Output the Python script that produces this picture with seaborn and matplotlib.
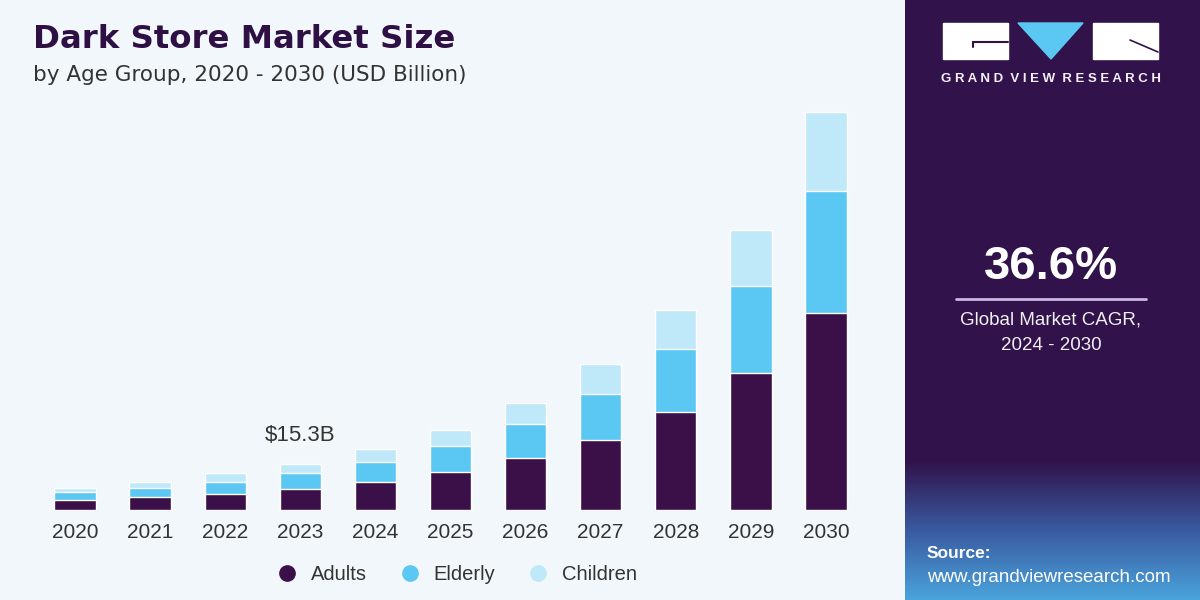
import numpy as np
import pandas as pd
import seaborn as sns
import matplotlib.pyplot as plt
from matplotlib.lines import Line2D
from matplotlib.patches import Rectangle, Polygon

years = ["2020", "2021", "2022", "2023", "2024", "2025", "2026", "2027", "2028", "2029", "2030"]
adults = [3.3, 4.4, 5.3, 6.9, 9.3, 12.5, 17.1, 23.1, 32.4, 45.4, 65.0]
elderly = [2.5, 2.8, 4.1, 5.4, 6.5, 8.8, 11.2, 15.2, 20.7, 28.7, 40.5]
children = [1.5, 2.1, 2.8, 3.0, 4.2, 5.2, 6.9, 9.8, 13.0, 18.5, 26.1]
series = ["Adults", "Elderly", "Children"]
colors = ["#3b1049", "#5bc8f4", "#bfe8f8"]
highlight_year = "2023"
highlight_label = "$15.3B"

bg = "#f2f7fb"
panel = "#31124a"

df = pd.DataFrame({"year": years, "Adults": adults, "Elderly": elderly, "Children": children})
df["lvl1"] = df["Adults"]
df["lvl2"] = df["Adults"] + df["Elderly"]
df["lvl3"] = df["lvl2"] + df["Children"]

sns.set_style("white")
plt.rcParams["font.family"] = ["Liberation Sans", "DejaVu Sans"]

fig = plt.figure(figsize=(12, 6), dpi=100, facecolor=bg)

# right side panel
pax = fig.add_axes([905 / 1200, 0, 295 / 1200, 1])
pax.set_xlim(0, 295)
pax.set_ylim(600, 0)
pax.axis("off")
pax.add_patch(Rectangle((0, 0), 295, 600, color=panel, zorder=0))
grad = np.linspace(0, 1, 200)[:, None]
cmap = sns.blend_palette([panel, "#3a5aa0", "#4aa4dc"], as_cmap=True)
pax.imshow(grad, extent=(0, 295, 600, 460), aspect="auto", cmap=cmap, zorder=1)

# logo
pax.add_patch(Rectangle((38, 23), 65, 36, color="white", zorder=2))
pax.add_patch(Rectangle((188, 23), 65, 36, color="white", zorder=2))
pax.add_patch(Polygon([(113, 23), (178, 23), (146, 59)], closed=True, color="#5bc8f4", zorder=2))
pax.plot([68, 103], [42, 42], color=panel, lw=1.5, zorder=3)
pax.plot([68, 68], [42, 47], color=panel, lw=1.5, zorder=3)
pax.plot([225, 253], [40, 52], color=panel, lw=1.2, zorder=3)
pax.text(146, 79, "G R A N D  V I E W  R E S E A R C H", color="#f4f0f8",
         fontsize=9.5, fontweight="bold", ha="center", va="center", zorder=3)

pax.text(146, 267, "36.6%", color="white", fontsize=34, fontweight="bold", ha="center", va="center", zorder=3)
pax.plot([51, 241], [299, 299], color="#c9b6e2", lw=2, zorder=3)
pax.text(146, 320, "Global Market CAGR,", color="#f0f0f0", fontsize=13.5, ha="center", va="center", zorder=3)
pax.text(146, 346, "2024 - 2030", color="#f0f0f0", fontsize=13.5, ha="center", va="center", zorder=3)
pax.text(22, 553, "Source:", color="white", fontsize=12.5, fontweight="bold", ha="left", va="center", zorder=3)
pax.text(22, 578, "www.grandviewresearch.com", color="white", fontsize=13.5, ha="left", va="center", zorder=3)

# main chart
ax = fig.add_axes([30 / 1200, 90 / 600, 841 / 1200, 408.5 / 600])
ax.set_facecolor("none")
sns.barplot(data=df, x="year", y="lvl3", color=colors[2], width=0.55, saturation=1, ax=ax)
sns.barplot(data=df, x="year", y="lvl2", color=colors[1], width=0.55, saturation=1, ax=ax)
sns.barplot(data=df, x="year", y="lvl1", color=colors[0], width=0.55, saturation=1, ax=ax)
ax.set_xlim(-0.6, 10.6)
ax.set_ylim(0, 135)
ax.set_xlabel("")
ax.set_ylabel("")
ax.set_yticks([])
sns.despine(ax=ax, left=True, bottom=True)
ax.tick_params(axis="x", length=0, labelsize=15, labelcolor="#333333", pad=9)

hi = years.index(highlight_year)
ax.text(hi, df["lvl3"][hi] + 6.0, highlight_label, ha="center", va="bottom", fontsize=16, color="#333333")

handles = [Line2D([], [], marker="o", linestyle="", markersize=11, markerfacecolor=c, markeredgecolor=c)
           for c in colors]
fig.legend(handles, series, loc="center", bbox_to_anchor=(452 / 1200, 1 - 575 / 600), ncol=3,
           frameon=False, fontsize=14.5, handletextpad=0.2, columnspacing=1.1,
           labelcolor="#333333")

fig.text(33 / 1200, 1 - 40 / 600, "Dark Store Market Size", fontsize=23.3, fontweight="bold",
         family="DejaVu Sans", color="#2e1045", ha="left", va="center")
fig.text(33 / 1200, 1 - 75 / 600, "by Age Group, 2020 - 2030 (USD Billion)", fontsize=15.5,
         family="DejaVu Sans", color="#333333", ha="left", va="center")

fig.savefig("out.png", dpi=100, facecolor=bg)
